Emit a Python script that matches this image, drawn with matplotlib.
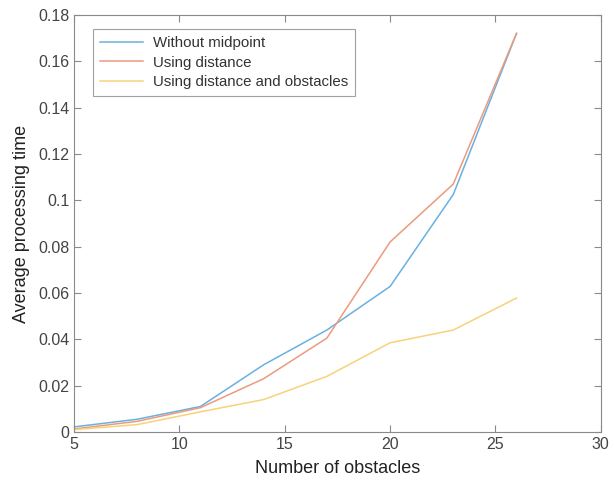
import matplotlib
matplotlib.use('Agg')
import matplotlib.pyplot as plt

plt.rcParams['font.family'] = ['Liberation Sans', 'DejaVu Sans']

obstacles = [5, 8, 11, 14, 17, 20, 23, 26]
without_midpoint = [0.0022, 0.0055, 0.0110, 0.0290, 0.0440, 0.0628, 0.1025, 0.1720]
using_distance = [0.0013, 0.0046, 0.0105, 0.0230, 0.0405, 0.0820, 0.1070, 0.1720]
using_dist_obst = [0.0010, 0.0032, 0.0087, 0.0140, 0.0240, 0.0385, 0.0440, 0.0578]

fig = plt.figure(figsize=(6.14, 4.8), dpi=100)
ax = fig.add_axes([0.1205, 0.1, 0.858, 0.869])

ax.plot(obstacles, without_midpoint, color='#6AB0E0', lw=1.1, label='Without midpoint')
ax.plot(obstacles, using_distance, color='#EC9A7E', lw=1.1, label='Using distance')
ax.plot(obstacles, using_dist_obst, color='#F7D27A', lw=1.1, label='Using distance and obstacles')

ax.set_xlim(5, 30)
ax.set_ylim(0, 0.18)
ax.set_xticks([5, 10, 15, 20, 25, 30])
ax.set_yticks([0, 0.02, 0.04, 0.06, 0.08, 0.1, 0.12, 0.14, 0.16, 0.18])
ax.set_yticklabels(['0', '0.02', '0.04', '0.06', '0.08', '0.1', '0.12', '0.14', '0.16', '0.18'])
ax.tick_params(direction='in', top=True, right=True, labelsize=11.5,
               colors='#8a8a8a', labelcolor='#444444', length=5)
for s in ax.spines.values():
    s.set_color('#8a8a8a')

ax.set_xlabel('Number of obstacles', fontsize=13, color='#222222', labelpad=6)
ax.set_ylabel('Average processing time', fontsize=13, color='#222222', labelpad=6)

leg = ax.legend(loc='upper left', bbox_to_anchor=(0.036, 0.966), borderaxespad=0,
                fontsize=10.8, fancybox=False, handlelength=2.9, handletextpad=0.65,
                borderpad=0.45, labelspacing=0.38)
leg.get_frame().set_edgecolor('#8a8a8a')
leg.get_frame().set_linewidth(0.8)
for t in leg.get_texts():
    t.set_color('#333333')

fig.savefig('out.png', dpi=100)
